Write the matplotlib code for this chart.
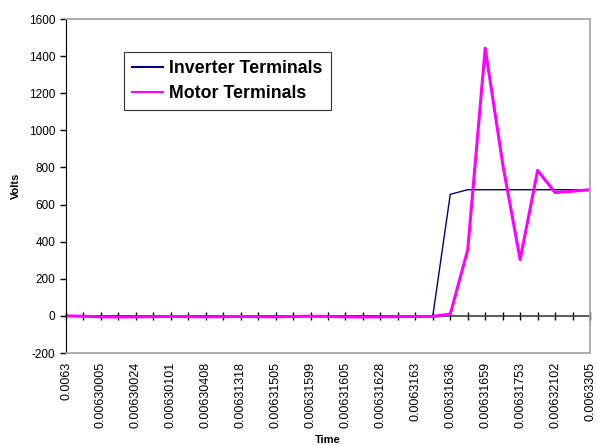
import matplotlib
matplotlib.use("Agg")
import matplotlib.pyplot as plt

plt.rcParams['font.family'] = ['Liberation Sans', 'DejaVu Sans']
plt.rcParams['axes.unicode_minus'] = False

# rótulos que aparecem no eixo (um sim, um não)
tick_labels = ["0.0063", "0.00630005", "0.00630024", "0.00630101", "0.00630408",
               "0.00631318", "0.00631505", "0.00631599", "0.00631605", "0.00631628",
               "0.0063163", "0.00631636", "0.00631659", "0.00631753", "0.00632102",
               "0.0063305"]

# valores (31 pontos)
inverter = [0, 0, 0, 0, 0, 0, 0, 0, 0, 0,
            0, 0, 0, 0, 0, 0, 0, 0, 0, 0,
            0, 0, 655, 680, 680, 680, 680, 680, 680, 680, 680]
motor = [0, -2, -5, -6, -5, -4, -3, -4, -5, -4,
         -3, -4, -5, -3, -2, -3, -5, -6, -5, -4,
         -3, -3, 10, 356, 1443, 820, 303, 784, 665, 672, 680]

x = list(range(len(inverter)))

fig = plt.figure(figsize=(5.97, 4.45), dpi=100)
ax = fig.add_axes([66/597, 1 - 353/445, (590 - 66)/597, (353 - 19)/445])

ax.plot(x, inverter, color='#000080', lw=1.0, label='Inverter Terminals')
ax.plot(x, motor, color='#FF00FF', lw=2.2, label='Motor Terminals')

ax.set_xlim(0, len(x) - 1)
ax.set_ylim(-200, 1600)
ax.set_yticks(range(-200, 1601, 200))
ax.tick_params(axis='y', labelsize=8.5, length=4, direction='out', width=1)

ax.set_xticks(x[::2])
ax.set_xticklabels(tick_labels, rotation=90, fontsize=9)
ax.tick_params(axis='x', length=0, pad=6.5)

for s in ['top', 'right', 'bottom']:
    ax.spines[s].set_color('#a0a0a0')
    ax.spines[s].set_linewidth(1.2)
ax.spines['left'].set_color('black')

# eixo das categorias cruzando em y = 0
sec = ax.secondary_xaxis(200/1800)
sec.set_xticks(x)
sec.set_xticklabels([])
sec.tick_params(direction='inout', length=6, width=1, color='black')
sec.spines['bottom'].set_color('#404040')
sec.spines['bottom'].set_linewidth(1.2)

ax.set_ylabel('Volts', fontsize=8, fontweight='bold', labelpad=6)
ax.set_xlabel('Time', fontsize=8, fontweight='bold', labelpad=5)

leg = ax.legend(loc='upper left', bbox_to_anchor=(58/524, 1 - 33/334),
                prop={'weight': 'bold', 'size': 12.8}, frameon=True, fancybox=False,
                handlelength=1.75, borderpad=0.45, labelspacing=0.45, handletextpad=0.35,
                borderaxespad=0)
leg.get_frame().set_edgecolor('black')
leg.get_frame().set_linewidth(0.8)
for h in leg.get_lines():
    h.set_linewidth(1.5)

fig.savefig('out.png', dpi=100)
